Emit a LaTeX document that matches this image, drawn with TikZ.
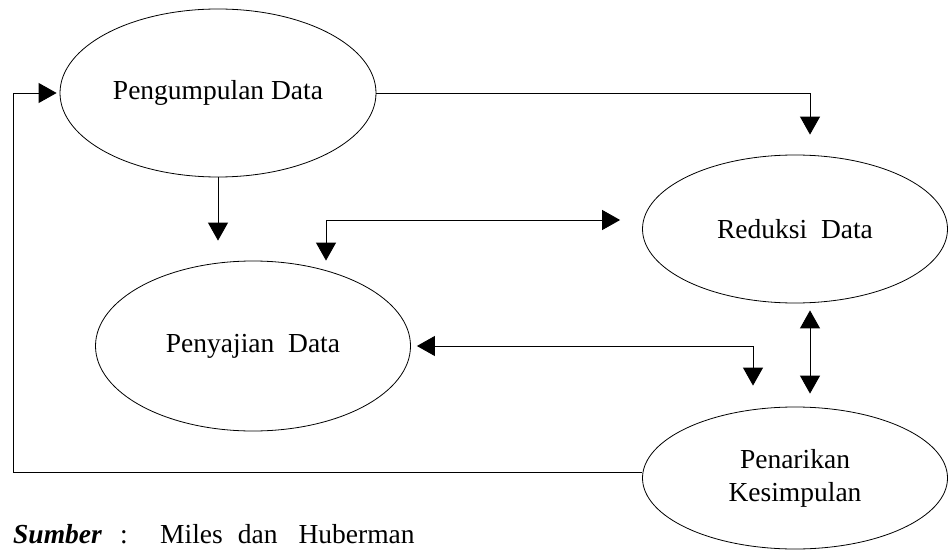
\documentclass[tikz,border=0pt]{standalone}
\usepackage{fontspec}
\setmainfont{Liberation Serif}
\usetikzlibrary{shapes.geometric,arrows.meta}

\begin{document}
\begin{tikzpicture}[
    x=1pt, y=-1pt,
    font=\fontsize{27.5pt}{33pt}\selectfont,
    stage/.style={ellipse, draw=black, line width=0.8pt, inner sep=0pt, align=center},
    flow/.style={line width=0.9pt, -{Triangle[length=18pt,width=20pt]}},
    twoway/.style={line width=0.9pt,
        {Triangle[length=18pt,width=20pt]}-{Triangle[length=18pt,width=20pt]}}
]
    \useasboundingbox (0,0) rectangle (949,553);
    \node[stage, minimum width=316pt, minimum height=168pt] (pd) at (218,93) {Pengumpulan Data};
    \node[stage, minimum width=305pt, minimum height=148pt] (rd) at (795,229) {Reduksi\ \ Data};
    \node[stage, minimum width=315pt, minimum height=170pt] (sd) at (253,346) {Penyajian\ \ Data};
    \node[stage, minimum width=305pt, minimum height=142pt] (pk) at (795,478) {Penarikan\\Kesimpulan};
    \coordinate (back) at (13,472);
    \draw[flow] (pd.east) -| ([xshift=15pt,yshift=20pt]rd.north);
    \draw[flow, shorten >=20pt] (pd.south) -- (pd.south |- sd.north);
    \draw[twoway] ([xshift=73pt]sd.north) |- ([xshift=-22pt,yshift=9pt]rd.west);
    \draw[twoway] ([xshift=6pt]sd.east) -| ([xshift=-42pt,yshift=21pt]pk.north);
    \draw[twoway] ([xshift=15pt,yshift=-7pt]rd.south) -- ([xshift=15pt,yshift=13pt]pk.north);
    \draw[flow] ([yshift=6pt]pk.west) -- (back) |- ([xshift=-3pt]pd.west);
    \node[anchor=base west, inner sep=0pt] (src) at (13,543)
        {\makebox[107pt][l]{\textbf{\textit{Sumber}}}\makebox[40pt][l]{:}Miles\hspace{15pt}dan\hspace{21pt}Huberman};
\end{tikzpicture}
\end{document}
